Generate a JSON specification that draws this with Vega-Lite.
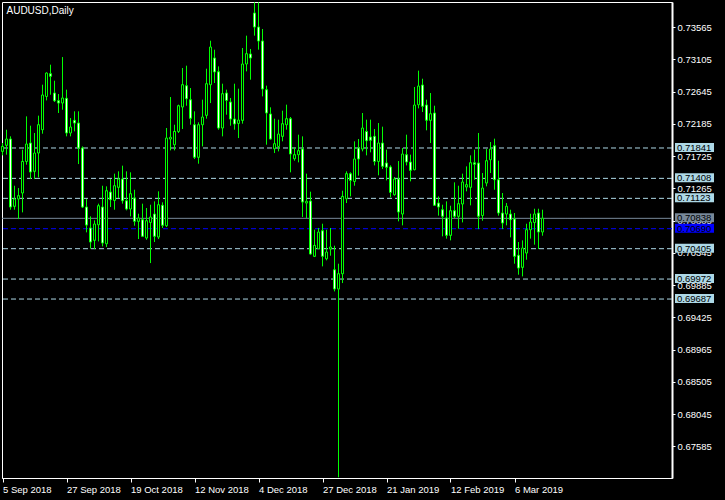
{
"$schema":"https://vega.github.io/schema/vega-lite/v6.json",
"width":670,"height":476,
"autosize":{"type":"none"},
"padding":{"left":2,"top":2,"right":53,"bottom":22},
"background":"#000000",
"config":{"view":{"stroke":"#ffffff","strokeWidth":1},"font":"Liberation Sans","axis":{"labelOverlap":false,"labelBound":false,"labelFlush":false,"grid":false}},
"title":{"text":"AUDUSD,Daily","anchor":"start","frame":"group","orient":"top","offset":-14,"dx":4.5,"fontSize":10,"font":"Liberation Sans","fontWeight":"normal","color":"#ffffff"},
"datasets":{
"candles":[
{"i":0,"d":"2018-09-05","o":0.71793,"h":0.71912,"l":0.71736,"c":0.71864},
{"i":1,"d":"2018-09-06","o":0.71879,"h":0.72102,"l":0.71746,"c":0.71969},
{"i":2,"d":"2018-09-07","o":0.71969,"h":0.72007,"l":0.70961,"c":0.70999},
{"i":3,"d":"2018-09-10","o":0.71009,"h":0.71303,"l":0.70961,"c":0.71113},
{"i":4,"d":"2018-09-11","o":0.71113,"h":0.7127,"l":0.70828,"c":0.71161},
{"i":5,"d":"2018-09-12","o":0.71199,"h":0.71817,"l":0.70923,"c":0.7165},
{"i":6,"d":"2018-09-13","o":0.7165,"h":0.72292,"l":0.71603,"c":0.71898},
{"i":7,"d":"2018-09-14","o":0.71912,"h":0.72159,"l":0.71398,"c":0.71498},
{"i":8,"d":"2018-09-17","o":0.71508,"h":0.72055,"l":0.71398,"c":0.71769},
{"i":9,"d":"2018-09-18","o":0.71769,"h":0.72302,"l":0.71422,"c":0.72173},
{"i":10,"d":"2018-09-19","o":0.72102,"h":0.72744,"l":0.72045,"c":0.72597},
{"i":11,"d":"2018-09-20","o":0.72577,"h":0.7292,"l":0.7252,"c":0.7291},
{"i":12,"d":"2018-09-21","o":0.72901,"h":0.73029,"l":0.72601,"c":0.72863},
{"i":13,"d":"2018-09-24","o":0.72625,"h":0.72801,"l":0.72497,"c":0.72516},
{"i":14,"d":"2018-09-25","o":0.72516,"h":0.72611,"l":0.7234,"c":0.72482},
{"i":15,"d":"2018-09-26","o":0.72482,"h":0.73138,"l":0.72387,"c":0.72554},
{"i":16,"d":"2018-09-27","o":0.72549,"h":0.72673,"l":0.72007,"c":0.72055},
{"i":17,"d":"2018-09-28","o":0.72055,"h":0.72268,"l":0.72007,"c":0.7214},
{"i":18,"d":"2018-10-01","o":0.72235,"h":0.72364,"l":0.72078,"c":0.72197},
{"i":19,"d":"2018-10-02","o":0.72197,"h":0.72364,"l":0.71612,"c":0.71841},
{"i":20,"d":"2018-10-03","o":0.71841,"h":0.71864,"l":0.70985,"c":0.70999},
{"i":21,"d":"2018-10-04","o":0.70999,"h":0.71113,"l":0.70638,"c":0.70742},
{"i":22,"d":"2018-10-05","o":0.707,"h":0.70866,"l":0.70405,"c":0.705},
{"i":23,"d":"2018-10-08","o":0.70524,"h":0.70809,"l":0.704,"c":0.70757},
{"i":24,"d":"2018-10-09","o":0.70747,"h":0.71047,"l":0.70509,"c":0.71018},
{"i":25,"d":"2018-10-10","o":0.70999,"h":0.71303,"l":0.70438,"c":0.70486},
{"i":26,"d":"2018-10-11","o":0.70476,"h":0.71294,"l":0.70429,"c":0.71232},
{"i":27,"d":"2018-10-12","o":0.71213,"h":0.71398,"l":0.70999,"c":0.71104},
{"i":28,"d":"2018-10-15","o":0.71094,"h":0.71475,"l":0.70961,"c":0.71303},
{"i":29,"d":"2018-10-16","o":0.7128,"h":0.71508,"l":0.71128,"c":0.71398},
{"i":30,"d":"2018-10-17","o":0.71398,"h":0.71589,"l":0.71047,"c":0.71089},
{"i":31,"d":"2018-10-18","o":0.71089,"h":0.71508,"l":0.70952,"c":0.70971},
{"i":32,"d":"2018-10-19","o":0.70971,"h":0.71494,"l":0.70866,"c":0.71189},
{"i":33,"d":"2018-10-22","o":0.71128,"h":0.71246,"l":0.70733,"c":0.70795},
{"i":34,"d":"2018-10-23","o":0.70795,"h":0.70904,"l":0.70543,"c":0.70842},
{"i":35,"d":"2018-10-24","o":0.70819,"h":0.71047,"l":0.70571,"c":0.70581},
{"i":36,"d":"2018-10-25","o":0.70557,"h":0.70985,"l":0.70533,"c":0.70804},
{"i":37,"d":"2018-10-26","o":0.7078,"h":0.71032,"l":0.702,"c":0.70857},
{"i":38,"d":"2018-10-29","o":0.70899,"h":0.7108,"l":0.705,"c":0.70581},
{"i":39,"d":"2018-10-30","o":0.70571,"h":0.71223,"l":0.70543,"c":0.71032},
{"i":40,"d":"2018-10-31","o":0.71023,"h":0.71066,"l":0.707,"c":0.70738},
{"i":41,"d":"2018-11-01","o":0.70733,"h":0.72126,"l":0.70714,"c":0.71983},
{"i":42,"d":"2018-11-02","o":0.71969,"h":0.72568,"l":0.71807,"c":0.71993},
{"i":43,"d":"2018-11-05","o":0.71888,"h":0.72173,"l":0.71807,"c":0.72078},
{"i":44,"d":"2018-11-06","o":0.72078,"h":0.72459,"l":0.72055,"c":0.72444},
{"i":45,"d":"2018-11-07","o":0.72425,"h":0.72982,"l":0.72112,"c":0.72744},
{"i":46,"d":"2018-11-08","o":0.7273,"h":0.73015,"l":0.72444,"c":0.72544},
{"i":47,"d":"2018-11-09","o":0.7253,"h":0.72696,"l":0.72173,"c":0.72264},
{"i":48,"d":"2018-11-12","o":0.72173,"h":0.72364,"l":0.71684,"c":0.71708},
{"i":49,"d":"2018-11-13","o":0.71708,"h":0.72207,"l":0.71617,"c":0.72173},
{"i":50,"d":"2018-11-14","o":0.72173,"h":0.7253,"l":0.71864,"c":0.72283},
{"i":51,"d":"2018-11-15","o":0.72307,"h":0.72972,"l":0.72259,"c":0.72758},
{"i":52,"d":"2018-11-16","o":0.72744,"h":0.73371,"l":0.72482,"c":0.73281},
{"i":53,"d":"2018-11-19","o":0.73124,"h":0.73243,"l":0.72768,"c":0.72925},
{"i":54,"d":"2018-11-20","o":0.72929,"h":0.73005,"l":0.72102,"c":0.72126},
{"i":55,"d":"2018-11-21","o":0.72126,"h":0.72758,"l":0.72007,"c":0.72616},
{"i":56,"d":"2018-11-22","o":0.72625,"h":0.72673,"l":0.72316,"c":0.7252},
{"i":57,"d":"2018-11-23","o":0.72497,"h":0.72554,"l":0.72159,"c":0.72254},
{"i":58,"d":"2018-11-26","o":0.72254,"h":0.72758,"l":0.72102,"c":0.72183},
{"i":59,"d":"2018-11-27","o":0.72192,"h":0.72687,"l":0.71983,"c":0.7224},
{"i":60,"d":"2018-11-28","o":0.72235,"h":0.73267,"l":0.72188,"c":0.73039},
{"i":61,"d":"2018-11-29","o":0.73039,"h":0.73443,"l":0.72934,"c":0.73186},
{"i":62,"d":"2018-11-30","o":0.73181,"h":0.73253,"l":0.72815,"c":0.73124},
{"i":63,"d":"2018-12-03","o":0.73766,"h":0.73918,"l":0.73443,"c":0.73566},
{"i":64,"d":"2018-12-04","o":0.73566,"h":0.73918,"l":0.73243,"c":0.73367},
{"i":65,"d":"2018-12-05","o":0.73367,"h":0.73538,"l":0.72577,"c":0.72682},
{"i":66,"d":"2018-12-06","o":0.72673,"h":0.7273,"l":0.71888,"c":0.7234},
{"i":67,"d":"2018-12-07","o":0.72326,"h":0.72421,"l":0.71959,"c":0.71969},
{"i":68,"d":"2018-12-10","o":0.71831,"h":0.72259,"l":0.71769,"c":0.71902},
{"i":69,"d":"2018-12-11","o":0.71864,"h":0.72245,"l":0.71793,"c":0.7204},
{"i":70,"d":"2018-12-12","o":0.72007,"h":0.72373,"l":0.71936,"c":0.72188},
{"i":71,"d":"2018-12-13","o":0.72173,"h":0.72459,"l":0.72102,"c":0.72259},
{"i":72,"d":"2018-12-14","o":0.72259,"h":0.72283,"l":0.71494,"c":0.71755},
{"i":73,"d":"2018-12-17","o":0.71688,"h":0.7185,"l":0.7166,"c":0.71746},
{"i":74,"d":"2018-12-18","o":0.71746,"h":0.72031,"l":0.71636,"c":0.71803},
{"i":75,"d":"2018-12-19","o":0.71826,"h":0.72007,"l":0.70857,"c":0.7107},
{"i":76,"d":"2018-12-20","o":0.71056,"h":0.71475,"l":0.70842,"c":0.7108},
{"i":77,"d":"2018-12-21","o":0.71085,"h":0.71218,"l":0.70319,"c":0.70329},
{"i":78,"d":"2018-12-24","o":0.70296,"h":0.70676,"l":0.70286,"c":0.70452},
{"i":79,"d":"2018-12-26","o":0.70405,"h":0.707,"l":0.704,"c":0.70643},
{"i":80,"d":"2018-12-27","o":0.70662,"h":0.70761,"l":0.70153,"c":0.70296},
{"i":81,"d":"2018-12-28","o":0.70262,"h":0.70676,"l":0.70239,"c":0.70357},
{"i":82,"d":"2018-12-31","o":0.704,"h":0.707,"l":0.70305,"c":0.70429},
{"i":83,"d":"2019-01-02","o":0.70105,"h":0.70448,"l":0.69796,"c":0.6983},
{"i":84,"d":"2019-01-03","o":0.6983,"h":0.70191,"l":0.67145,"c":0.70048},
{"i":85,"d":"2019-01-04","o":0.70048,"h":0.71232,"l":0.69915,"c":0.71151},
{"i":86,"d":"2019-01-07","o":0.71118,"h":0.71508,"l":0.71056,"c":0.71475},
{"i":87,"d":"2019-01-08","o":0.71475,"h":0.71494,"l":0.71151,"c":0.71379},
{"i":88,"d":"2019-01-09","o":0.71365,"h":0.71936,"l":0.71303,"c":0.71684},
{"i":89,"d":"2019-01-10","o":0.71841,"h":0.71969,"l":0.71446,"c":0.71684},
{"i":90,"d":"2019-01-11","o":0.71826,"h":0.7234,"l":0.71793,"c":0.72126},
{"i":91,"d":"2019-01-14","o":0.72078,"h":0.72245,"l":0.71736,"c":0.71945},
{"i":92,"d":"2019-01-15","o":0.71998,"h":0.72245,"l":0.71779,"c":0.7195},
{"i":93,"d":"2019-01-16","o":0.72007,"h":0.72112,"l":0.71593,"c":0.7165},
{"i":94,"d":"2019-01-17","o":0.7165,"h":0.72197,"l":0.71451,"c":0.71912},
{"i":95,"d":"2019-01-18","o":0.71912,"h":0.72145,"l":0.71541,"c":0.71579},
{"i":96,"d":"2019-01-21","o":0.71627,"h":0.71817,"l":0.71379,"c":0.71565},
{"i":97,"d":"2019-01-22","o":0.7157,"h":0.71593,"l":0.71137,"c":0.71208},
{"i":98,"d":"2019-01-23","o":0.71175,"h":0.71427,"l":0.71161,"c":0.71398},
{"i":99,"d":"2019-01-24","o":0.71398,"h":0.71655,"l":0.70795,"c":0.70928},
{"i":100,"d":"2019-01-25","o":0.70899,"h":0.71841,"l":0.70738,"c":0.71755},
{"i":101,"d":"2019-01-28","o":0.71746,"h":0.72031,"l":0.71593,"c":0.71641},
{"i":102,"d":"2019-01-29","o":0.71641,"h":0.71746,"l":0.71365,"c":0.71522},
{"i":103,"d":"2019-01-30","o":0.71532,"h":0.72711,"l":0.71522,"c":0.72454},
{"i":104,"d":"2019-01-31","o":0.72459,"h":0.72944,"l":0.72406,"c":0.72725},
{"i":105,"d":"2019-02-01","o":0.72739,"h":0.72829,"l":0.72354,"c":0.72435},
{"i":106,"d":"2019-02-04","o":0.72454,"h":0.7253,"l":0.72093,"c":0.72235},
{"i":107,"d":"2019-02-05","o":0.72235,"h":0.72625,"l":0.71912,"c":0.7233},
{"i":108,"d":"2019-02-06","o":0.7234,"h":0.72444,"l":0.71018,"c":0.71023},
{"i":109,"d":"2019-02-07","o":0.71056,"h":0.71151,"l":0.70876,"c":0.70999},
{"i":110,"d":"2019-02-08","o":0.70961,"h":0.71032,"l":0.70581,"c":0.70866},
{"i":111,"d":"2019-02-11","o":0.70842,"h":0.7108,"l":0.70548,"c":0.70595},
{"i":112,"d":"2019-02-12","o":0.70595,"h":0.71018,"l":0.70524,"c":0.70947},
{"i":113,"d":"2019-02-13","o":0.70947,"h":0.71351,"l":0.70842,"c":0.70866},
{"i":114,"d":"2019-02-14","o":0.70866,"h":0.71303,"l":0.7069,"c":0.71047},
{"i":115,"d":"2019-02-15","o":0.71042,"h":0.71475,"l":0.7078,"c":0.71356},
{"i":116,"d":"2019-02-18","o":0.71284,"h":0.71579,"l":0.71223,"c":0.71318},
{"i":117,"d":"2019-02-19","o":0.7128,"h":0.71736,"l":0.71023,"c":0.71631},
{"i":118,"d":"2019-02-20","o":0.71631,"h":0.71817,"l":0.71389,"c":0.71608},
{"i":119,"d":"2019-02-21","o":0.71627,"h":0.72055,"l":0.70685,"c":0.70866},
{"i":120,"d":"2019-02-22","o":0.7088,"h":0.71484,"l":0.70804,"c":0.7127},
{"i":121,"d":"2019-02-25","o":0.71341,"h":0.71826,"l":0.71294,"c":0.7166},
{"i":122,"d":"2019-02-26","o":0.71674,"h":0.71926,"l":0.71484,"c":0.71826},
{"i":123,"d":"2019-02-27","o":0.71874,"h":0.71974,"l":0.71246,"c":0.71389},
{"i":124,"d":"2019-02-28","o":0.71389,"h":0.7166,"l":0.70876,"c":0.70914},
{"i":125,"d":"2019-03-01","o":0.70914,"h":0.71199,"l":0.70685,"c":0.70771},
{"i":126,"d":"2019-03-04","o":0.70899,"h":0.71056,"l":0.70738,"c":0.71009},
{"i":127,"d":"2019-03-05","o":0.70899,"h":0.70961,"l":0.70567,"c":0.70819},
{"i":128,"d":"2019-03-06","o":0.70828,"h":0.70914,"l":0.70191,"c":0.70296},
{"i":129,"d":"2019-03-07","o":0.7031,"h":0.705,"l":0.70034,"c":0.70129},
{"i":130,"d":"2019-03-08","o":0.70139,"h":0.70524,"l":0.7001,"c":0.70414},
{"i":131,"d":"2019-03-11","o":0.70343,"h":0.70761,"l":0.70248,"c":0.70676},
{"i":132,"d":"2019-03-12","o":0.70676,"h":0.70904,"l":0.70548,"c":0.70785},
{"i":133,"d":"2019-03-13","o":0.7078,"h":0.70975,"l":0.70462,"c":0.70899},
{"i":134,"d":"2019-03-14","o":0.70914,"h":0.70975,"l":0.704,"c":0.70643},
{"i":135,"d":"2019-03-15","o":0.70643,"h":0.70961,"l":0.7059,"c":0.70838}
],
"levels":[
{"p":0.71841,"k":"level"},{"p":0.71408,"k":"level"},{"p":0.71123,"k":"level"},
{"p":0.70838,"k":"bid"},{"p":0.70690,"k":"line"},
{"p":0.70405,"k":"level"},{"p":0.69972,"k":"level"},{"p":0.69687,"k":"level"}
]
},
"layer":[
{"data":{"name":"levels"},
 "mark":{"type":"rule","strokeWidth":1},
 "encoding":{
  "y":{"field":"p","type":"quantitative","scale":{"domain":[0.67135,0.73923],"nice":false,"zero":false},
   "axis":{"orient":"right","values":[0.73565,0.73105,0.72645,0.72185,0.71725,0.71265,0.70805,0.70345,0.69885,0.69425,0.68965,0.68505,0.68045,0.67585],"tickCount":30,"format":".5f","grid":false,"domainColor":"#ffffff","domainWidth":2,"tickColor":"#ffffff","tickSize":3,"labelColor":"#ffffff","labelFont":"Liberation Sans","labelFontSize":9.5,"labelPadding":2,"title":null,"labelOverlap":false,"labelBound":false,"labelFlush":false}},
  "color":{"field":"k","type":"nominal","scale":{"domain":["level","bid","line"],"range":["#add8e6","#778899","#0000ff"]},"legend":null},
  "strokeDash":{"field":"k","type":"nominal","scale":{"domain":["level","bid","line"],"range":[[5,3],[1,0],[5,3]]},"legend":null}
 }},
{"data":{"name":"candles"},
 "mark":{"type":"rule","color":"#00ff00","strokeWidth":1},
 "encoding":{
  "x":{"field":"i","type":"quantitative","scale":{"domain":[-0.125,167.375],"nice":false,"zero":false},
   "axis":{"orient":"bottom","values":[0,16,32,48,64,80,96,112,128],"tickCount":30,"labelExpr":"['5 Sep 2018','27 Sep 2018','19 Oct 2018','12 Nov 2018','4 Dec 2018','27 Dec 2018','21 Jan 2019','12 Feb 2019','6 Mar 2019'][round(datum.value/16)]","labelAlign":"left","labelBaseline":"top","labelPadding":2,"tickSize":4,"tickColor":"#ffffff","domainColor":"#ffffff","labelColor":"#ffffff","labelFont":"Liberation Sans","labelFontSize":9.5,"grid":false,"title":null,"labelOverlap":false,"labelFlush":false}},
  "y":{"field":"l","type":"quantitative"},
  "y2":{"field":"h"}
 }},
{"data":{"name":"candles"},
 "mark":{"type":"rect","color":"#00ff00","stroke":"#00ff00","strokeWidth":1,"xOffset":-1,"x2Offset":1},
 "encoding":{
  "x":{"field":"i","type":"quantitative"},
  "x2":{"field":"i"},
  "y":{"field":"o","type":"quantitative"},
  "y2":{"field":"c"}
 }},
{"data":{"name":"candles"},
 "transform":[{"filter":"datum.c >= datum.o"}],
 "mark":{"type":"rect","color":"#000000","xOffset":-0.5,"x2Offset":0.5,"yOffset":-0.5,"y2Offset":0.5},
 "encoding":{
  "x":{"field":"i","type":"quantitative"},
  "x2":{"field":"i"},
  "y":{"field":"o","type":"quantitative"},
  "y2":{"field":"c"}
 }},
{"data":{"name":"candles"},
 "transform":[{"filter":"datum.c < datum.o"}],
 "mark":{"type":"rect","color":"#ffffff","xOffset":-0.5,"x2Offset":0.5,"yOffset":0.5,"y2Offset":-0.5},
 "encoding":{
  "x":{"field":"i","type":"quantitative"},
  "x2":{"field":"i"},
  "y":{"field":"o","type":"quantitative"},
  "y2":{"field":"c"}
 }},
{"data":{"name":"levels"},
 "mark":{"type":"rect","yOffset":-5,"y2Offset":4},
 "encoding":{
  "x":{"value":{"expr":"width+3"}},
  "x2":{"value":{"expr":"width+42"}},
  "y":{"field":"p","type":"quantitative"},
  "y2":{"field":"p"},
  "color":{"field":"k","type":"nominal","legend":null}
 }},
{"data":{"name":"levels"},
 "mark":{"type":"text","align":"left","baseline":"middle","fontSize":9.5,"font":"Liberation Sans","color":"#000000"},
 "encoding":{
  "x":{"value":{"expr":"width+5"}},
  "y":{"field":"p","type":"quantitative"},
  "text":{"field":"p","type":"quantitative","format":".5f"}
 }}
]
}
